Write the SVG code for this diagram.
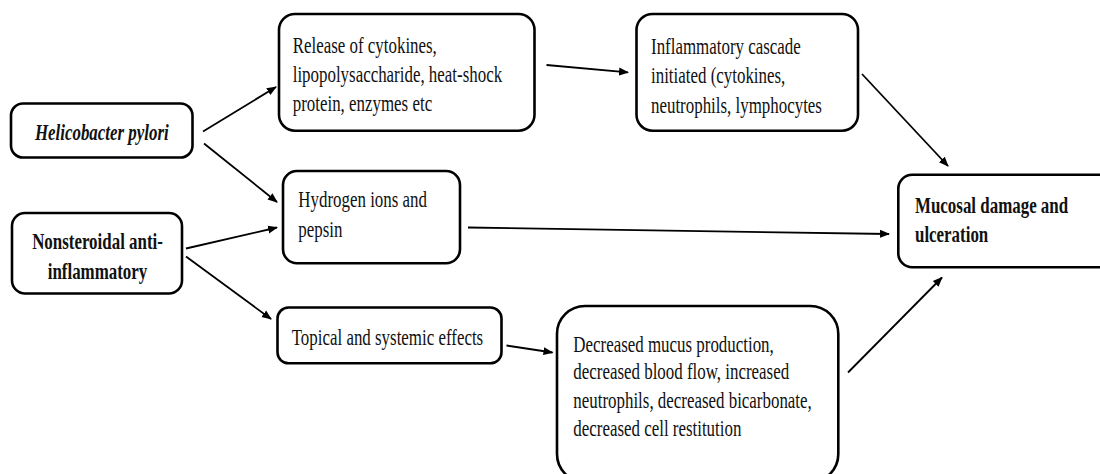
<svg xmlns="http://www.w3.org/2000/svg" width="1100" height="474" viewBox="0 0 1100 474">
  <defs>
    <marker id="ah" viewBox="0 0 10 10" refX="9" refY="5" markerWidth="10" markerHeight="10" markerUnits="userSpaceOnUse" orient="auto">
      <path d="M0,1 L10,5 L0,9 Z" fill="#000"/>
    </marker>
    <style>
      rect.box { fill: #fff; stroke: #000; stroke-width: 2.6; }
      text { font-family: "Liberation Serif", "Times New Roman", serif; font-size: 24px; fill: #111; }
      text.b { font-weight: bold; }
      text.bi { font-weight: bold; font-style: italic; }
      .conn line { stroke: #000; stroke-width: 1.8; marker-end: url(#ah); }
    </style>
  </defs>
  <rect width="1100" height="474" fill="#fff"/>

  <g id="connectors" class="conn">
    <line x1="203" y1="131.5" x2="276" y2="87"/>
    <line x1="204" y1="143.5" x2="277" y2="202"/>
    <line x1="186" y1="248.5" x2="277" y2="227.5"/>
    <line x1="186" y1="256.5" x2="271" y2="319"/>
    <line x1="546.5" y1="65" x2="628" y2="72.3"/>
    <line x1="862" y1="74" x2="948" y2="166"/>
    <line x1="468" y1="227.5" x2="889" y2="234"/>
    <line x1="506.5" y1="345.5" x2="552.5" y2="352.5"/>
    <line x1="848" y1="372.5" x2="942" y2="277.5"/>
  </g>

  <g id="helicobacter">
    <rect class="box" x="11" y="103.5" width="181.5" height="54" rx="12"/>
    <text class="bi" text-anchor="middle" transform="translate(101.8,139.5) scale(0.705,1)">Helicobacter pylori</text>
  </g>

  <g id="nsaid">
    <rect class="box" x="12" y="213" width="170" height="80.5" rx="13"/>
    <text class="b" text-anchor="middle" transform="translate(97.5,248.5) scale(0.705,1)">Nonsteroidal anti-</text>
    <text class="b" text-anchor="middle" transform="translate(97.5,278.5) scale(0.705,1)">inflammatory</text>
  </g>

  <g id="release">
    <rect class="box" x="279" y="14" width="255.5" height="116.7" rx="16"/>
    <text transform="translate(292.7,52.5) scale(0.705,1)">Release of cytokines,</text>
    <text transform="translate(292.7,82) scale(0.705,1)">lipopolysaccharide, heat-shock</text>
    <text transform="translate(292.7,110.5) scale(0.705,1)">protein, enzymes etc</text>
  </g>

  <g id="hydrogen">
    <rect class="box" x="283" y="171" width="177" height="92.3" rx="14"/>
    <text transform="translate(298.3,207.3) scale(0.705,1)">Hydrogen ions and</text>
    <text transform="translate(298.3,236.7) scale(0.705,1)">pepsin</text>
  </g>

  <g id="topical">
    <rect class="box" x="277.5" y="307.5" width="224" height="55.8" rx="11"/>
    <text transform="translate(291.7,345) scale(0.705,1)">Topical and systemic effects</text>
  </g>

  <g id="inflammatory">
    <rect class="box" x="636.5" y="14" width="221.5" height="116.7" rx="16"/>
    <text transform="translate(651,54) scale(0.705,1)">Inflammatory cascade</text>
    <text transform="translate(651,83.3) scale(0.705,1)">initiated (cytokines,</text>
    <text transform="translate(651,112.5) scale(0.705,1)">neutrophils, lymphocytes</text>
  </g>

  <g id="decreased">
    <rect class="box" x="557" y="306" width="281.3" height="176" rx="28"/>
    <text transform="translate(573.3,351.7) scale(0.705,1)">Decreased mucus production,</text>
    <text transform="translate(573.3,379.3) scale(0.705,1)">decreased blood flow, increased</text>
    <text transform="translate(573.3,407.5) scale(0.705,1)">neutrophils, decreased bicarbonate,</text>
    <text transform="translate(573.3,436) scale(0.705,1)">decreased cell restitution</text>
  </g>

  <g id="mucosal">
    <rect class="box" x="898.3" y="174.8" width="215" height="92.5" rx="14"/>
    <text class="b" transform="translate(915,213.3) scale(0.705,1)">Mucosal damage and</text>
    <text class="b" transform="translate(915,241.7) scale(0.705,1)">ulceration</text>
  </g>
</svg>
